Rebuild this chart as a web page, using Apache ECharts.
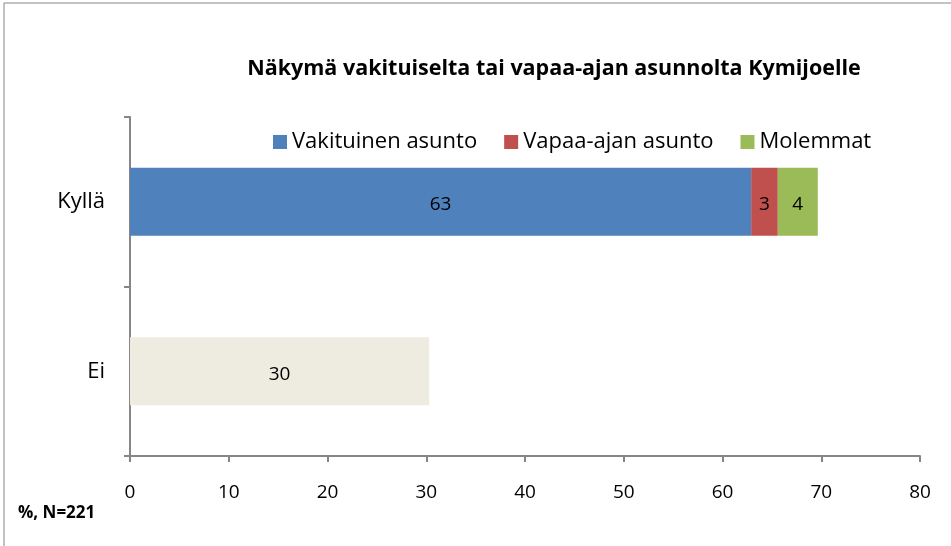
<!DOCTYPE html>
<html>
<head>
<meta charset="utf-8">
<script src="https://cdn.jsdelivr.net/npm/echarts@6/dist/echarts.min.js"></script>
<style>
  html, body { margin: 0; padding: 0; background: #fff; }
  #chart { width: 951px; height: 546px; }
</style>
</head>
<body>
<div id="chart"></div>
<script>
// data
const categories = ['Ei', 'Kyllä'];
const vakituinen = [null, 62.9];
const vapaa = [null, 2.7];
const molemmat = [null, 4.05];
const ei = [30.3, null];
const xTicks = [0, 10, 20, 30, 40, 50, 60, 70, 80];

const chart = echarts.init(document.getElementById('chart'));
const font = '"Open Sans", "Noto Sans", sans-serif';

const lbl = {
  show: true,
  position: 'inside',
  color: '#000',
  fontSize: 19,
  fontFamily: font,
  offset: [0, 3],
  formatter: p => Math.round(p.value)
};

function bar(name, data, color) {
  return {
    name: name,
    type: 'bar',
    stack: 'a',
    data: data,
    barWidth: '40%',
    itemStyle: { color: color },
    label: lbl
  };
}

chart.setOption({
  animation: false,
  title: {
    text: 'Näkymä vakituiselta tai vapaa-ajan asunnolta Kymijoelle',
    left: 549,
    textAlign: 'center',
    top: 53,
    textStyle: { fontSize: 21.5, fontWeight: 'bold', color: '#000', fontFamily: font }
  },
  legend: {
    data: ['Vakituinen asunto', 'Vapaa-ajan asunto', 'Molemmat'],
    left: 268,
    top: 126,
    itemWidth: 14,
    itemHeight: 14,
    itemGap: 27,
    icon: 'rect',
    textStyle: { fontSize: 22, color: '#000', fontFamily: font }
  },
  grid: { left: 130, right: 31, top: 117, bottom: 90 },
  xAxis: {
    type: 'value',
    min: 0,
    max: 80,
    interval: 10,
    splitLine: { show: false },
    axisLine: { show: true, lineStyle: { color: '#868686', width: 2 } },
    axisTick: { show: true, length: 6, lineStyle: { color: '#868686', width: 2 } },
    axisLabel: {
      color: '#000', fontSize: 19, margin: 27, fontFamily: font,
      formatter: v => xTicks.includes(v) ? String(v) : ''
    }
  },
  yAxis: {
    type: 'category',
    data: categories,
    axisLine: { show: true, lineStyle: { color: '#868686', width: 2 } },
    axisTick: { show: true, length: 6, lineStyle: { color: '#868686', width: 2 } },
    axisLabel: { color: '#000', fontSize: 22, margin: 25, fontFamily: font }
  },
  graphic: [
    {
      type: 'rect',
      shape: { x: 4, y: 3, width: 960, height: 560 },
      style: { fill: 'none', stroke: '#868686', lineWidth: 1 },
      silent: true
    },
    {
      type: 'text',
      left: 18,
      top: 505,
      style: { text: '%, N=221', font: 'bold 17px ' + font, fill: '#000' }
    }
  ],
  series: [
    bar('Vakituinen asunto', vakituinen, '#4F81BD'),
    bar('Vapaa-ajan asunto', vapaa, '#C0504D'),
    bar('Molemmat', molemmat, '#9BBB59'),
    bar('Ei', ei, '#EEECE1')
  ]
});
</script>
</body>
</html>
